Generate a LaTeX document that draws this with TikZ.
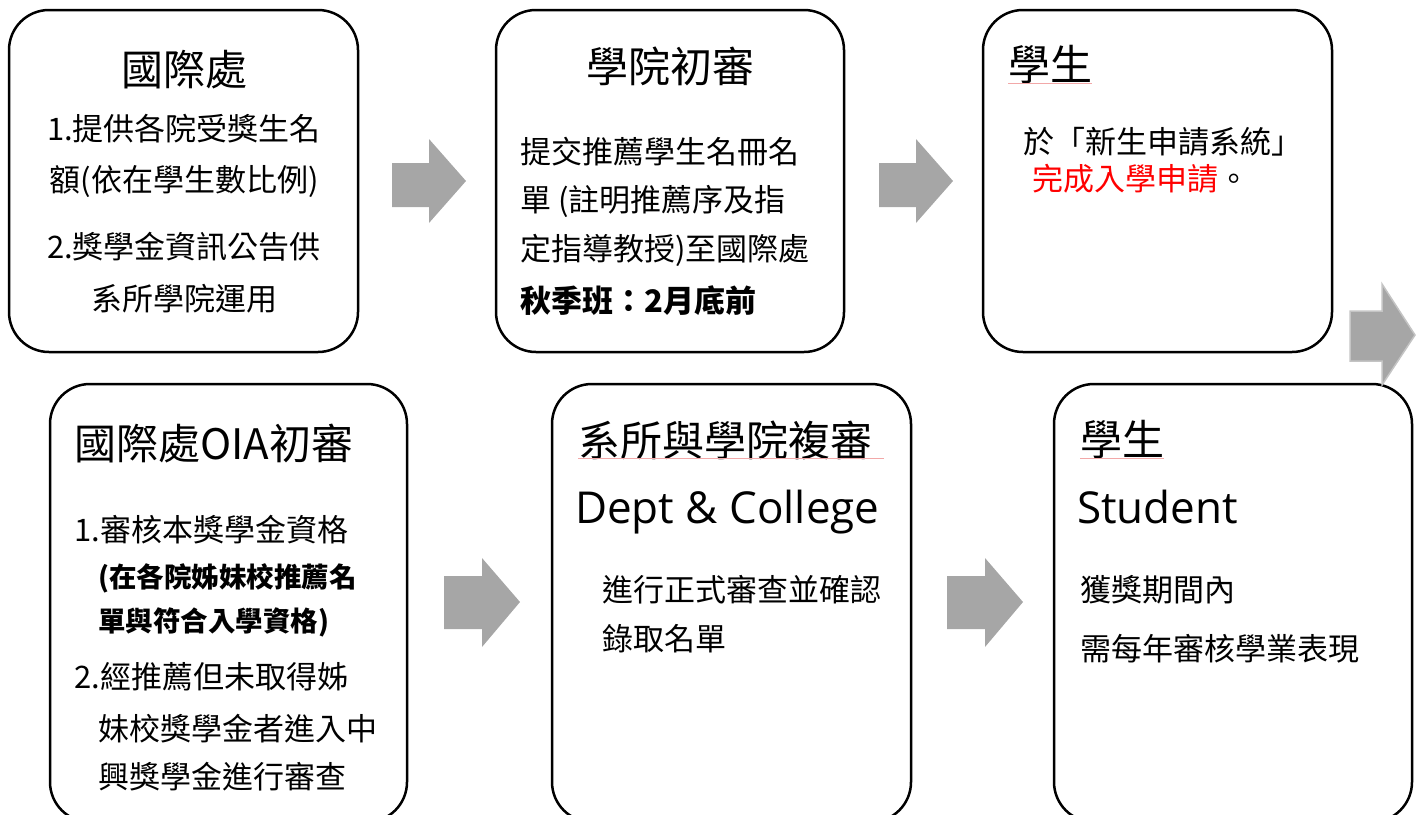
\documentclass[tikz,border=0pt]{standalone}
\usepackage{fontspec}
\setmainfont{Noto Sans CJK TC}
\newfontfamily\latinhead{Open Sans}
\usepackage{xcolor}
\definecolor{arrowgray}{HTML}{A6A6A6}
\definecolor{arrowedge}{HTML}{C4C4C4}
\definecolor{spellred}{HTML}{F2A8A8}
\tikzset{%
    stepbox/.style={inner sep=0pt,outer sep=0pt,shape=rectangle,draw,line width=2.5pt,rounded corners=40pt,anchor=north west},
    headline/.style={inner sep=0pt,anchor=base west,font=\fontsize{42}{42}\selectfont},
    latinline/.style={inner sep=0pt,anchor=base west,font=\fontsize{44}{44}\selectfont\latinhead},
    textline/.style={inner sep=0pt,anchor=base west,font=\fontsize{31}{31}\selectfont},
    boldline/.style={inner sep=0pt,anchor=base west,font=\fontsize{31}{31}\selectfont\bfseries},
    smallbold/.style={inner sep=0pt,anchor=base west,font=\fontsize{27.5}{27.5}\selectfont\bfseries},
    flowarrow/.style={fill=arrowgray},
    spellmark/.style={spellred,line width=0.8pt},
}

\begin{document}
\begin{tikzpicture}[x=1pt,y=-1pt]
        \useasboundingbox (0,0) rectangle (1421,814);

        % top row
        \node [stepbox,minimum width=349pt,minimum height=342pt] (oia) at (9,10) {};
        \node [headline,anchor=base] (oiahead) at (184,85) {國際處};
        \node [textline,anchor=base] (oiaone) at (184,140) {1.提供各院受獎生名};
        \node [textline,anchor=base] (oiaonecont) at (184,191) {額(依在學生數比例)};
        \node [textline,anchor=base] (oiatwo) at (184,258) {2.獎學金資訊公告供};
        \node [textline,anchor=base] (oiatwocont) at (184,310) {系所學院運用};

        \node [stepbox,minimum width=348pt,minimum height=342pt] (college) at (496,10) {};
        \node [headline,anchor=base] (collegehead) at (670,82) {學院初審};
        \node [textline] (collegea) at (520,163) {提交推薦學生名冊名};
        \node [textline] (collegeb) at (520,211) {單 (註明推薦序及指};
        \node [textline] (collegec) at (520,260) {定指導教授)至國際處};
        \node [boldline] (collegedue) at (520,312) {秋季班：2月底前};

        \node [stepbox,minimum width=349pt,minimum height=342pt] (apply) at (983,10) {};
        \node [headline] (applyhead) at (1008,80) {學生};
        \node [textline] (applya) at (1023,153) {於「新生申請系統」};
        \node [textline] (applyb) at (1032,190) {{\color{red}完成入學申請}。};
        \draw [spellmark] ([yshift=-3pt]applyhead.base west) -- ([yshift=-3pt]applyhead.base east);

        % bottom row
        \node [stepbox,minimum width=357pt,minimum height=438pt] (review) at (50,384) {};
        \node [headline] (reviewhead) at (74,459) {國際處OIA初審};
        \node [textline] (reviewone) at (74,541) {1.審核本獎學金資格};
        \node [smallbold] (reviewonea) at (98,587) {(在各院姊妹校推薦名};
        \node [smallbold] (reviewoneb) at (98,631) {單與符合入學資格)};
        \node [textline] (reviewtwo) at (74,688) {2.經推薦但未取得姊};
        \node [textline] (reviewtwoa) at (98,740) {妹校獎學金者進入中};
        \node [textline] (reviewtwob) at (98,788) {興獎學金進行審查};

        \node [stepbox,minimum width=359pt,minimum height=438pt] (dept) at (552,384) {};
        \node [headline] (depthead) at (578,456) {系所與學院複審};
        \node [latinline] (depteng) at (575,523) {Dept \& College};
        \node [textline] (depta) at (602,601) {進行正式審查並確認};
        \node [textline] (deptb) at (602,650) {錄取名單};
        \draw [spellmark] ([yshift=-2pt]depthead.base west) -- ([xshift=12pt,yshift=-2pt]depthead.base east);

        \node [stepbox,minimum width=358pt,minimum height=438pt] (award) at (1054,384) {};
        \node [headline] (awardhead) at (1080,455) {學生};
        \node [latinline] (awardeng) at (1077,523) {Student};
        \node [textline] (awarda) at (1080,601) {獲獎期間內};
        \node [textline] (awardb) at (1080,660) {需每年審核學業表現};
        \draw [spellmark] ([yshift=-3pt]awardhead.base west) -- ([yshift=-3pt]awardhead.base east);

        % block arrows
        \fill [flowarrow] (392,163) -- (429,163) -- (429,139) -- (466,181) -- (429,223) -- (429,207) -- (392,207) -- cycle;
        \fill [flowarrow] (879,163) -- (916,163) -- (916,139) -- (953,181) -- (916,223) -- (916,207) -- (879,207) -- cycle;
        \filldraw [flowarrow,draw=arrowedge,line width=1.5pt] (1350,311) -- (1382,311) -- (1382,284) -- (1415,335) -- (1382,385) -- (1382,361) -- (1350,361) -- cycle;
        \fill [flowarrow] (444,576) -- (482,576) -- (482,558) -- (520,602) -- (482,647) -- (482,629) -- (444,629) -- cycle;
        \fill [flowarrow] (947,576) -- (985,576) -- (985,558) -- (1023,602) -- (985,647) -- (985,629) -- (947,629) -- cycle;
      \end{tikzpicture}
\end{document}
